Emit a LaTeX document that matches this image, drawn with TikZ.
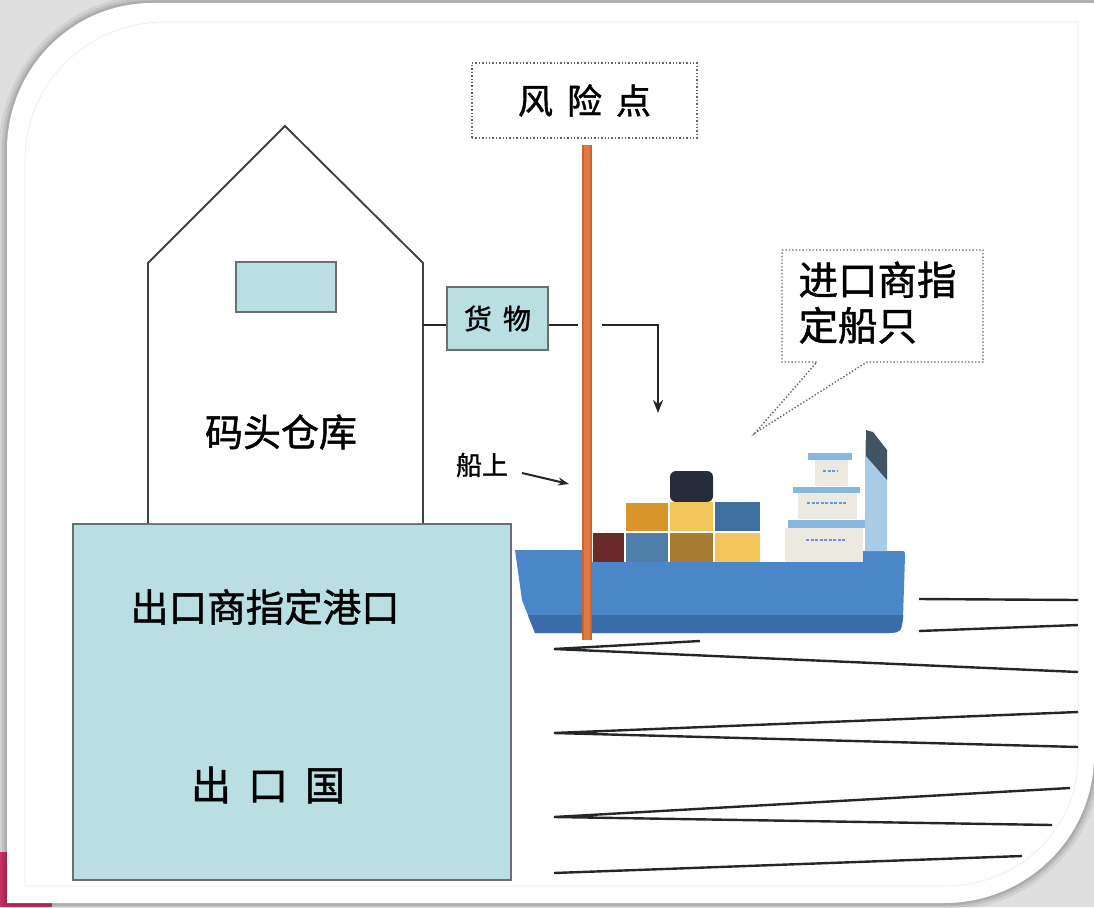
\documentclass[tikz,border=0pt]{standalone}
\usepackage{fontspec}
\setmainfont{Noto Sans CJK SC}[FakeBold=1.2]
\usetikzlibrary{arrows.meta}

\definecolor{paleblue}{HTML}{B9DFE3}
\definecolor{edgegray}{HTML}{6A7070}
\definecolor{poleorange}{HTML}{E27A44}
\definecolor{poleedge}{HTML}{CF622F}
\definecolor{hullblue}{HTML}{4A86C8}
\definecolor{hulldark}{HTML}{3A6DAA}
\definecolor{cabin}{HTML}{ECE9E1}
\definecolor{deckblue}{HTML}{86B8DE}
\definecolor{funnel}{HTML}{A9CBE6}
\definecolor{funnelcap}{HTML}{3F5566}
\definecolor{cornerpink}{HTML}{D2336C}
% container colours
\definecolor{boxnavy}{HTML}{262C3A}
\definecolor{boxred}{HTML}{6B2A2A}
\definecolor{boxsteel}{HTML}{4F7FA8}
\definecolor{boxochre}{HTML}{A87B32}
\definecolor{boxyellow}{HTML}{F2C55A}
\definecolor{boxorange}{HTML}{D9952A}
\definecolor{boxblue}{HTML}{3F6F9E}

\def\cardpath{(7,150) .. controls (7,69) and (72,3) .. (152,3) -- (1094,3)
  -- (1094,755) .. controls (1094,837) and (1027,903) .. (944,903) -- (7,903) -- cycle}

\begin{document}
\begin{tikzpicture}[x=1pt, y=-1pt,
  wall/.style={draw=black!75, line width=1.9pt},
  panel/.style={draw=edgegray, line width=2.2pt, fill=paleblue},
  dotbox/.style={draw=black!60, dotted, line width=1.4pt},
  link/.style={draw=black!85, line width=2.4pt},
  wave/.style={draw=black!85, line width=2.4pt, line join=miter},
  hanzi/.style={font=\fontsize{38}{46}\selectfont},
  porthole/.style={draw=deckblue!80!blue, line width=2.5pt, dash pattern=on 3pt off 1.5pt}]
\useasboundingbox (0,0) rectangle (1094,907);

% card and frame
\fill[gray!25] (0,0) rectangle (1094,907);
\fill[cornerpink] (0,852) rectangle (52,907);
\foreach \w/\o in {16/0.06, 10/0.08, 5/0.1}
  \draw[line width=\w pt, black, opacity=\o] \cardpath;
\fill[white] \cardpath;
\draw[gray!15, line width=0.6pt] (25,160) .. controls (25,83) and (88,22) .. (165,22)
  -- (1078,22) -- (1078,757) .. controls (1078,830) and (1018,886) .. (945,886)
  -- (25,886) -- cycle;

% harbour and warehouse
\node[panel, minimum width=438pt, minimum height=356pt] (port) at (292,702) {};
\draw[wall, fill=white] (148,523) -- (148,263) -- (285,126) -- (423,263) -- (423,523);
\node[panel, line width=1.8pt, minimum width=100pt, minimum height=50pt] (window) at (286,287) {};
\node[hanzi] (shed) at (281,432) {码头仓库};
\node[hanzi, font=\fontsize{38.5}{46}\selectfont] (portname) at (265,607) {出口商指定港口};
\node[hanzi, font=\fontsize{40}{46}\selectfont] (country) at (268,785) {出\hspace{17pt}口\hspace{17pt}国};

% goods on the way to the ship
\coordinate (wallR) at (423,325);
\coordinate (gapL) at (578,325);
\coordinate (gapR) at (602,325);
\coordinate (drop) at (658,413);
\node[panel, minimum width=101pt, minimum height=63pt, font=\fontsize{28}{32}\selectfont]
  (goods) at (497.5,318.5) {货\hspace{11pt}物};
\draw[link] (wallR) -- (wallR -| goods.west);
\draw[link] (goods.east |- wallR) -- (gapL);
\draw[link, -{Stealth[length=13pt, width=10pt]}] (gapR) -| (drop);

% waves
\draw[wave] (919,599) -- (1078,600);
\draw[wave] (919,631) -- (1078,625);
\draw[wave] (700,641) -- (554,649) -- (1078,672);
\draw[wave] (1078,712) -- (554,733) -- (1078,747);
\draw[wave] (1070,788) -- (554,817) -- (1052,825);
\draw[wave] (554,873) -- (1022,856);

% ship
\begin{scope}
  \clip (515,550) -- (592,550) -- (592,562) -- (853,562) -- (853,556)
    .. controls (853,551) .. (858,551) -- (900,551) .. controls (905,551) .. (905,556)
    -- (903,618) .. controls (901,632) .. (890,633) -- (535,633) -- (522,600) -- cycle;
  \fill[hullblue] (510,545) rectangle (910,640);
  \fill[hulldark] (510,615) rectangle (910,640);
\end{scope}
\fill[boxnavy, rounded corners=6pt] (670,502) -- (670,471) -- (713,471) -- (713,502) -- cycle;
\fill[boxred] (593,533) rectangle (624,562);
\fill[boxsteel] (626,533) rectangle (668,562);
\fill[boxochre] (670,533) rectangle (713,562);
\fill[boxyellow] (715,533) rectangle (760,562);
\fill[boxorange] (626,503) rectangle (668,531);
\fill[boxyellow] (670,502) rectangle (713,531);
\fill[boxblue] (715,502) rectangle (760,531);
% bridge
\fill[cabin] (785,528) rectangle (863,562);
\fill[cabin] (798,493) rectangle (857,519);
\fill[cabin] (815,460) rectangle (848,486);
\fill[deckblue] (788,520) rectangle (865,528);
\fill[deckblue] (793,487) rectangle (860,493);
\fill[deckblue] (808,453) rectangle (852,460);
\draw[porthole] (806,540) -- (845,540);
\draw[porthole] (807,503) -- (846,503);
\draw[porthole] (823,471) -- (838,471);
\fill[funnel] (865,440) -- (887,460) -- (887,551) -- (865,551) -- cycle;
\fill[funnelcap] (866,430) -- (873,432) -- (887,450) -- (887,480) -- (866,456) -- cycle;

% risk point marker
\node[dotbox, minimum width=225pt, minimum height=75pt, font=\fontsize{35}{40}\selectfont]
  (risk) at (584.5,100.5) {风\hspace{14pt}险\hspace{14pt}点};
\coordinate (poleTop) at (587,145);
\coordinate (poleEnd) at (587,640);
\draw[poleedge, line width=10pt] (poleTop) -- (poleEnd);
\draw[poleorange, line width=6pt] (poleTop) -- (poleEnd);

% on board
\node[font=\fontsize{26}{30}\selectfont] (onboard) at (482,465) {船上};
\coordinate (hit) at (569,484);
\draw[link, line width=2pt, -{Stealth[length=11pt, width=8pt]}] (522,473) -- (hit);

% buyer's vessel callout
\draw[dotbox] (782,250) -- (983,250) -- (983,362) -- (867,362) -- (755,433)
  -- (817,362) -- (782,362) -- cycle;
\node[hanzi, anchor=north west, align=left, font=\fontsize{39.5}{45.5}\selectfont]
  (buyer) at (795,258) {进口商指\\定船只};
\end{tikzpicture}
\end{document}
